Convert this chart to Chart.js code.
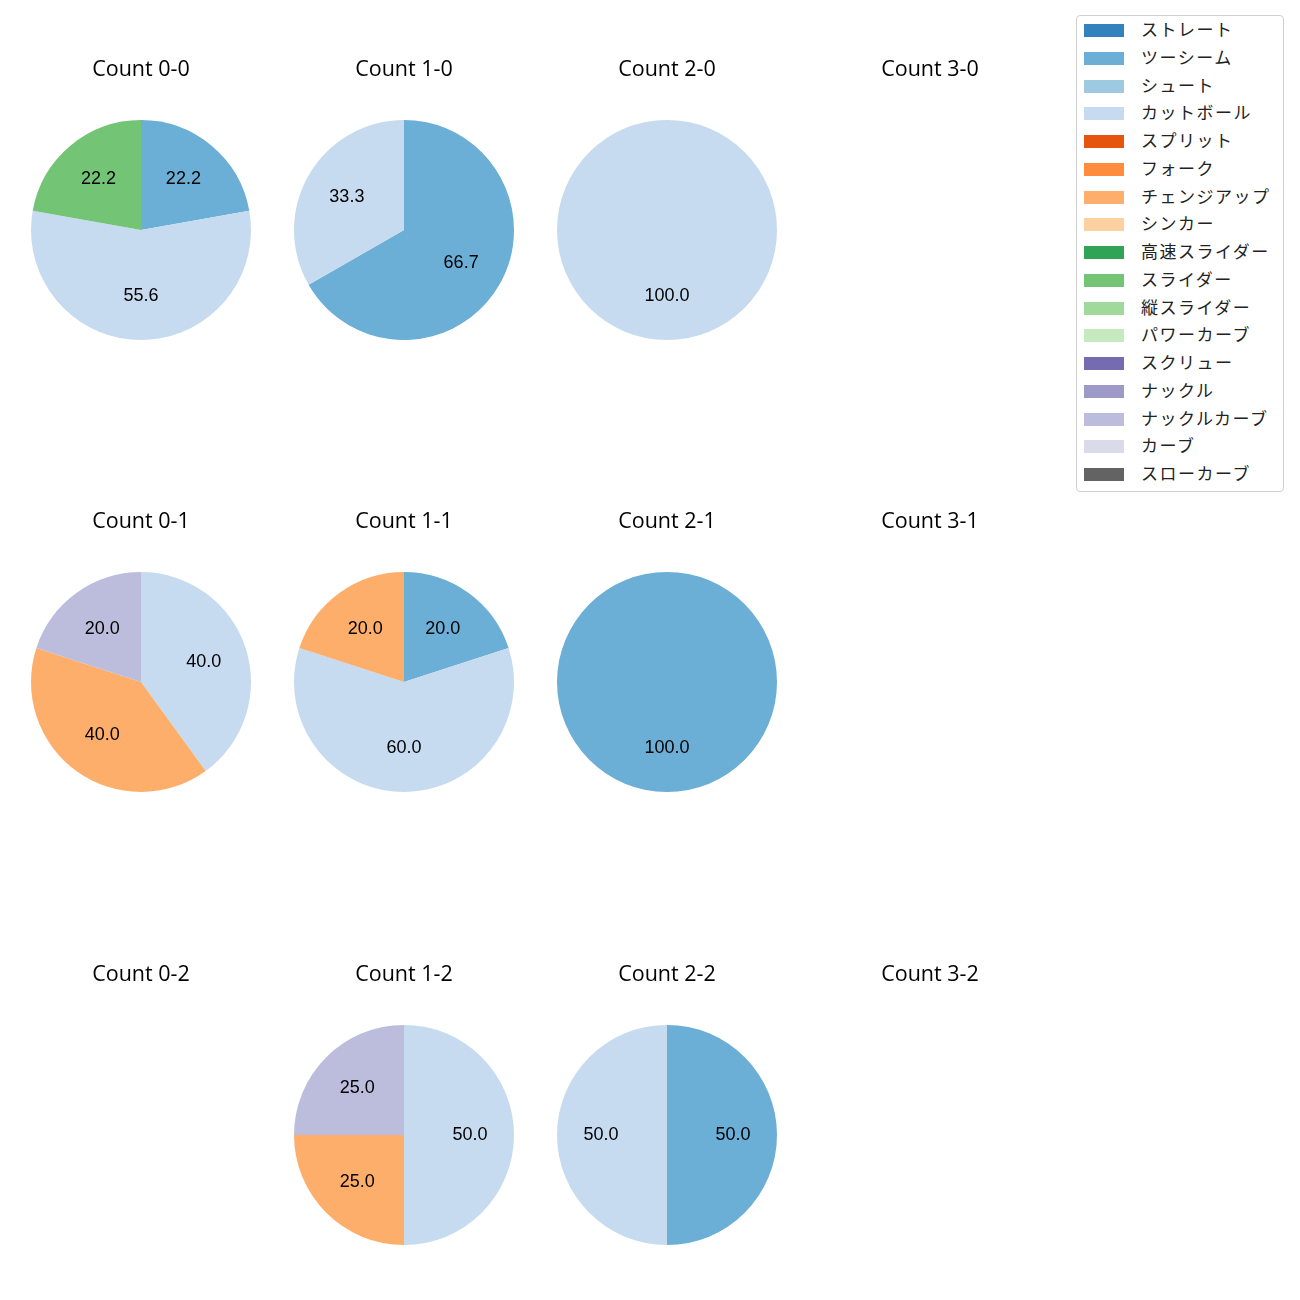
<!DOCTYPE html>
<html lang="ja">
<head>
  <meta charset="UTF-8" />
  <title>Count pies</title>
  <script src="https://cdn.jsdelivr.net/npm/chart.js"></script>
  <style>
    body { margin: 0; background: #fff; width: 1300px; height: 1300px; position: relative; overflow: hidden; font-family: "Noto Sans CJK JP", sans-serif; }
    .cell { position: absolute; width: 240px; height: 290px; }
    #legend { position: absolute; left: 1076px; top: 15px; width: 208px; height: 477px; border: 1px solid #d0d0d0; border-radius: 4px; box-sizing: border-box; background: #fff; }
    .item { position: absolute; left: 0; height: 20px; }
    .item .sw { position: absolute; left: 7px; top: 4px; width: 40px; height: 13px; }
    .item .tx { position: absolute; left: 64px; top: -4px; font-size: 17px; letter-spacing: 1.5px; color: #222; white-space: nowrap; }
  </style>
</head>
<body>
  <div id="legend"></div>

  <script>
    const pitchTypes = ['ストレート', 'ツーシーム', 'シュート', 'カットボール', 'スプリット', 'フォーク', 'チェンジアップ', 'シンカー',
      '高速スライダー', 'スライダー', '縦スライダー', 'パワーカーブ', 'スクリュー', 'ナックル', 'ナックルカーブ', 'カーブ', 'スローカーブ'];
    const pitchColors = ['#3182bd', '#6baed6', '#9ecae1', '#c6dbef', '#e6550d', '#fd8d3c', '#fdae6b', '#fdd0a2',
      '#31a354', '#74c476', '#a1d99b', '#c7e9c0', '#756bb1', '#9e9ac8', '#bcbddc', '#dadaeb', '#636363'];

    // grid order: row = strikes, column = balls
    const countTitles = ['Count 0-0', 'Count 1-0', 'Count 2-0', 'Count 3-0',
      'Count 0-1', 'Count 1-1', 'Count 2-1', 'Count 3-1',
      'Count 0-2', 'Count 1-2', 'Count 2-2', 'Count 3-2'];

    // share (%) per pitch type, same order as pitchTypes
    const count00 = [0, 22.2, 0, 55.6, 0, 0, 0, 0, 0, 22.2, 0, 0, 0, 0, 0, 0, 0];
    const count10 = [0, 66.7, 0, 33.3, 0, 0, 0, 0, 0, 0, 0, 0, 0, 0, 0, 0, 0];
    const count20 = [0, 0, 0, 100, 0, 0, 0, 0, 0, 0, 0, 0, 0, 0, 0, 0, 0];
    const count30 = [0, 0, 0, 0, 0, 0, 0, 0, 0, 0, 0, 0, 0, 0, 0, 0, 0];
    const count01 = [0, 0, 0, 40, 0, 0, 40, 0, 0, 0, 0, 0, 0, 0, 20, 0, 0];
    const count11 = [0, 20, 0, 60, 0, 0, 20, 0, 0, 0, 0, 0, 0, 0, 0, 0, 0];
    const count21 = [0, 100, 0, 0, 0, 0, 0, 0, 0, 0, 0, 0, 0, 0, 0, 0, 0];
    const count31 = [0, 0, 0, 0, 0, 0, 0, 0, 0, 0, 0, 0, 0, 0, 0, 0, 0];
    const count02 = [0, 0, 0, 0, 0, 0, 0, 0, 0, 0, 0, 0, 0, 0, 0, 0, 0];
    const count12 = [0, 0, 0, 50, 0, 0, 25, 0, 0, 0, 0, 0, 0, 0, 25, 0, 0];
    const count22 = [0, 50, 0, 50, 0, 0, 0, 0, 0, 0, 0, 0, 0, 0, 0, 0, 0];
    const count32 = [0, 0, 0, 0, 0, 0, 0, 0, 0, 0, 0, 0, 0, 0, 0, 0, 0];

    const countValues = [count00, count10, count20, count30, count01, count11, count21, count31, count02, count12, count22, count32];

    const colCenters = [141, 404, 667, 930];
    const pieTops = [120, 572, 1025];

    // percentage labels at 0.6 of the radius, like autopct
    const pctLabels = {
      id: 'pctLabels',
      afterDatasetsDraw(chart) {
        const c = chart.ctx;
        const data = chart.data.datasets[0].data;
        const total = data.reduce((a, b) => a + b, 0);
        if (!total) return;
        c.save();
        c.font = '18px "Liberation Sans", Arial, sans-serif';
        c.fillStyle = '#000';
        c.textAlign = 'center';
        c.textBaseline = 'middle';
        chart.getDatasetMeta(0).data.forEach((arc, i) => {
          if (!data[i]) return;
          const mid = (arc.startAngle + arc.endAngle) / 2;
          const r = arc.outerRadius * 0.6;
          const x = arc.x + Math.cos(mid) * r;
          const y = arc.y + Math.sin(mid) * r;
          c.fillText((data[i] / total * 100).toFixed(1), x, y);
        });
        c.restore();
      }
    };

    countTitles.forEach((title, k) => {
      const row = Math.floor(k / 4), col = k % 4;
      const div = document.createElement('div');
      div.className = 'cell';
      div.style.left = (colCenters[col] - 120) + 'px';
      div.style.top = (pieTops[row] - 70) + 'px';
      const cv = document.createElement('canvas');
      cv.width = 240; cv.height = 290;
      div.appendChild(cv);
      document.body.appendChild(div);

      new Chart(cv.getContext('2d'), {
        type: 'pie',
        data: {
          labels: pitchTypes,
          datasets: [{ data: countValues[k], backgroundColor: pitchColors, borderWidth: 0 }]
        },
        options: {
          responsive: false,
          animation: false,
          layout: { padding: 0 },
          plugins: {
            legend: { display: false },
            tooltip: { enabled: false },
            title: {
              display: true,
              text: title,
              color: '#000',
              font: { family: '"Open Sans", sans-serif', size: 21.5, weight: 'normal', lineHeight: 1.2 },
              padding: { top: 7, bottom: 37.2 }
            }
          }
        },
        plugins: [pctLabels]
      });
    });

    const legend = document.getElementById('legend');
    pitchTypes.forEach((name, i) => {
      const it = document.createElement('div');
      it.className = 'item';
      it.style.top = (4 + i * 27.75) + 'px';
      it.innerHTML = '<div class="sw" style="background:' + pitchColors[i] + '"></div><div class="tx">' + name + '</div>';
      legend.appendChild(it);
    });
  </script>
</body>
</html>
